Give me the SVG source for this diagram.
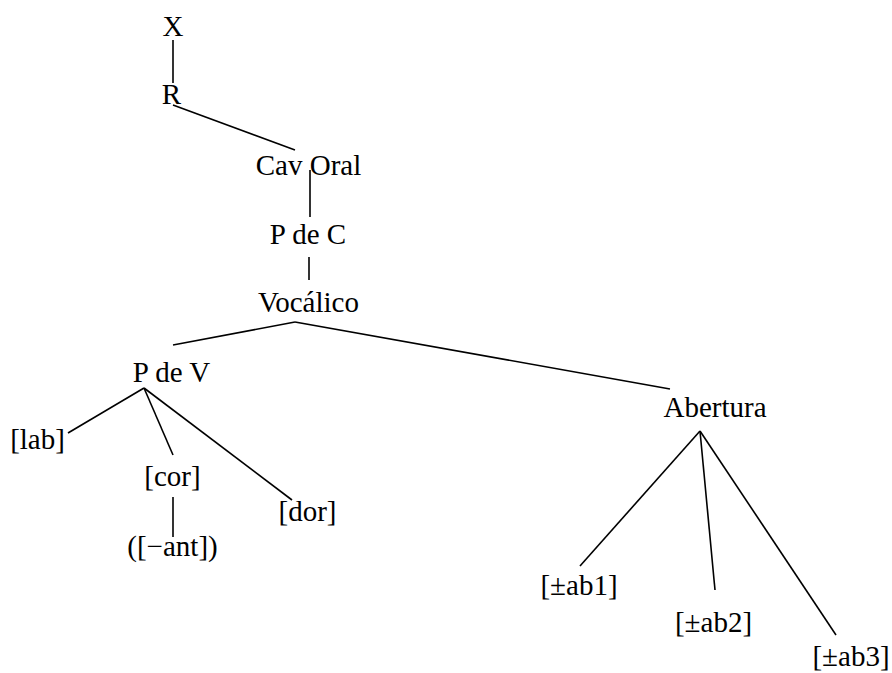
<svg xmlns="http://www.w3.org/2000/svg" width="892" height="673" viewBox="0 0 892 673">
<style>
text{font-family:"Liberation Serif","Times New Roman",serif;font-size:29px;fill:#000;text-anchor:middle}
line{stroke:#000;stroke-width:1.6}
</style>
<rect width="892" height="673" fill="#fff"/>
<g id="connectors">
<line x1="173" y1="40" x2="173" y2="83"/>
<line x1="173" y1="105" x2="295" y2="150"/>
<line x1="310" y1="170" x2="310" y2="217"/>
<line x1="309" y1="257" x2="309" y2="280"/>
<line x1="295" y1="322" x2="173" y2="345"/>
<line x1="295" y1="322" x2="670" y2="389"/>
<line x1="144" y1="388" x2="68" y2="433"/>
<line x1="144" y1="388" x2="173" y2="455"/>
<line x1="144" y1="388" x2="292" y2="500"/>
<line x1="173" y1="497" x2="173" y2="537"/>
<line x1="700" y1="431" x2="580" y2="566"/>
<line x1="700" y1="431" x2="715" y2="590"/>
<line x1="700" y1="431" x2="836" y2="635"/>
</g>
<g id="n-X"><text x="173" y="36">X</text></g>
<g id="n-R"><text x="171.5" y="104">R</text></g>
<g id="n-CavOral"><text x="308.5" y="175">Cav Oral</text></g>
<g id="n-PdeC"><text x="308" y="244">P de C</text></g>
<g id="n-Vocalico"><text x="308.5" y="312">Vocálico</text></g>
<g id="n-PdeV"><text x="171.5" y="382">P de V</text></g>
<g id="n-lab"><text x="37.5" y="449">[lab]</text></g>
<g id="n-cor"><text x="172.5" y="486">[cor]</text></g>
<g id="n-dor"><text x="307.5" y="521">[dor]</text></g>
<g id="n-ant"><text x="172.5" y="556">([−ant])</text></g>
<g id="n-Abertura"><text x="715" y="417">Abertura</text></g>
<g id="n-ab1"><text x="579" y="595">[±ab1]</text></g>
<g id="n-ab2"><text x="713.5" y="632">[±ab2]</text></g>
<g id="n-ab3"><text x="851" y="666">[±ab3]</text></g>
</svg>
